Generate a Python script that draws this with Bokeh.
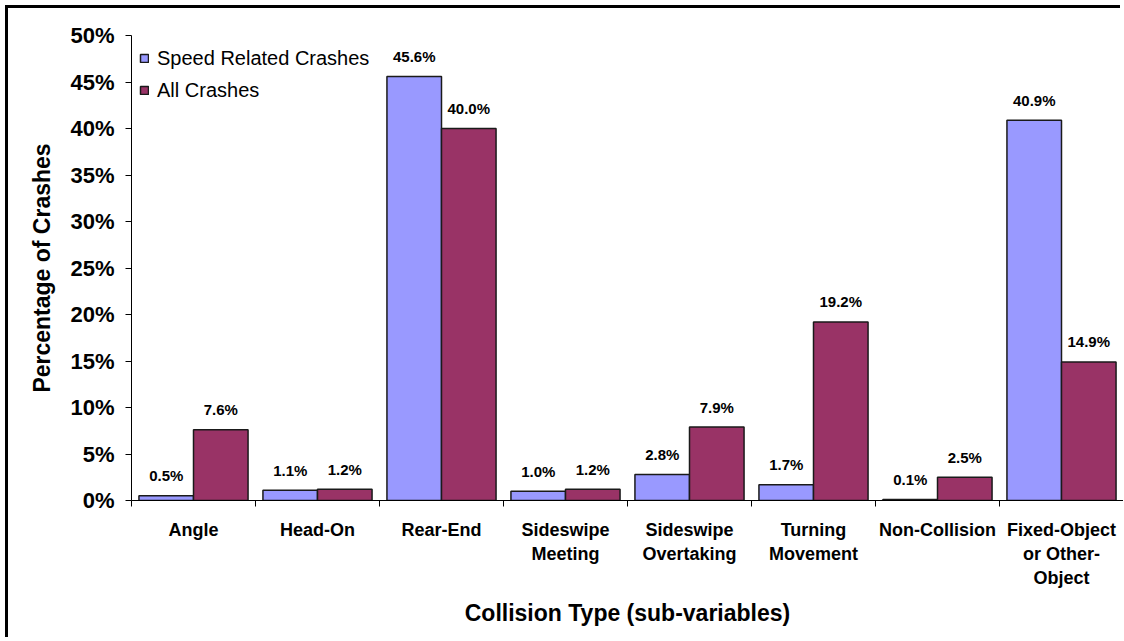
from bokeh.plotting import figure
from bokeh.models import (ColumnDataSource, FixedTicker, PrintfTickFormatter, Range1d)
from bokeh.core.properties import value
from bokeh.embed import file_html
from bokeh.resources import INLINE

categories = ["Angle", "Head-On", "Rear-End", "Sideswipe\nMeeting", "Sideswipe\nOvertaking",
              "Turning\nMovement", "Non-Collision", "Fixed-Object\nor Other-\nObject"]
speed_related = [0.5, 1.1, 45.6, 1.0, 2.8, 1.7, 0.1, 40.9]
all_crashes = [7.6, 1.2, 40.0, 1.2, 7.9, 19.2, 2.5, 14.9]
y_ticks = [0, 5, 10, 15, 20, 25, 30, 35, 40, 45, 50]

FONT = "Liberation Sans"
BLUE = "#9999FF"
MAROON = "#993366"
OUTLINE = "#1a1a1a"

n = len(categories)
centers = [i + 0.5 for i in range(n)]
dodge = 0.22
bw = 0.44

src_s = ColumnDataSource(dict(x=[c - dodge for c in centers], top=speed_related,
                              lab=["%.1f%%" % v for v in speed_related]))
src_a = ColumnDataSource(dict(x=[c + dodge for c in centers], top=all_crashes,
                              lab=["%.1f%%" % v for v in all_crashes]))

p = figure(width=1115, height=632, output_backend="svg", toolbar_location=None,
           x_range=Range1d(0, n), y_range=Range1d(0, 50),
           min_border_left=123, min_border_top=27, min_border_right=0, min_border_bottom=140)
# outer chart frame: only its left and top edges are visible in the reference
p.styles = {"margin-left": "8px", "margin-top": "8px",
            "box-shadow": "-3px -3px 0px 0px black"}

p.vbar(x="x", top="top", width=bw, source=src_s, fill_color=BLUE, line_color=OUTLINE,
       line_width=1.5, legend_label="Speed Related Crashes")
p.vbar(x="x", top="top", width=bw, source=src_a, fill_color=MAROON, line_color=OUTLINE,
       line_width=1.5, legend_label="All Crashes")

for src in (src_s, src_a):
    p.text(x="x", y="top", text="lab", source=src, text_align="center", text_baseline="middle",
           y_offset=-20, text_font=value(FONT), text_font_size="15px", text_font_style="bold",
           text_color="black")

p.outline_line_color = None
p.xgrid.grid_line_color = None
p.ygrid.grid_line_color = None

# x axis
xa = p.xaxis[0]
xa.ticker = FixedTicker(ticks=centers, minor_ticks=list(range(n + 1)))
xa.major_label_overrides = {c: lab for c, lab in zip(centers, categories)}
xa.major_tick_line_color = None
xa.minor_tick_line_color = "black"
xa.minor_tick_out = 6
xa.minor_tick_in = 0
xa.axis_line_color = "black"
xa.major_label_text_font = FONT
xa.major_label_text_font_size = "18px"
xa.major_label_text_font_style = "bold"
xa.major_label_text_color = "black"
xa.major_label_standoff = 13
xa.axis_label = "Collision Type (sub-variables)"
xa.axis_label_text_font = FONT
xa.axis_label_text_font_size = "23px"
xa.axis_label_text_font_style = "bold"
xa.axis_label_text_color = "black"
xa.axis_label_standoff = 9

# y axis
ya = p.yaxis[0]
ya.ticker = FixedTicker(ticks=y_ticks)
ya.formatter = PrintfTickFormatter(format="%d%%")
ya.minor_tick_line_color = None
ya.major_tick_out = 6
ya.major_tick_in = 0
ya.axis_line_color = "black"
ya.major_tick_line_color = "black"
ya.major_label_text_font = FONT
ya.major_label_text_font_size = "22px"
ya.major_label_text_font_style = "bold"
ya.major_label_text_color = "black"
ya.major_label_standoff = 11
ya.axis_label = "Percentage of Crashes"
ya.axis_label_text_font = FONT
ya.axis_label_text_font_size = "23px"
ya.axis_label_text_font_style = "bold"
ya.axis_label_text_color = "black"
ya.axis_label_standoff = 12

lg = p.legend[0]
lg.location = "top_left"
lg.border_line_color = None
lg.background_fill_alpha = 0
lg.margin = 8
lg.padding = 7
lg.label_text_font = FONT
lg.label_text_font_size = "20px"
lg.label_text_color = "black"
lg.glyph_width = 10
lg.glyph_height = 10
lg.label_height = 30
lg.spacing = 2
lg.label_standoff = 8

open("out.html", "w").write(file_html(p, INLINE))
